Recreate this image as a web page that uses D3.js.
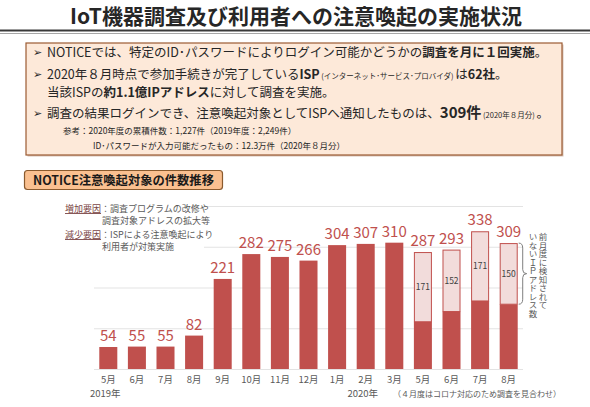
<!DOCTYPE html>
<html>
<head>
<meta charset="utf-8">
<script src="https://cdn.jsdelivr.net/npm/d3@7"></script>
<style>
  body { margin: 0; background: #fff; }
  svg { display: block; font-family: "Noto Sans CJK JP", "Noto Sans", sans-serif; }
</style>
</head>
<body>
<svg id="chart" width="590" height="407"></svg>
<script>
// data
const monthLabels = ["5月", "6月", "7月", "8月", "9月", "10月", "11月", "12月", "1月", "2月", "3月", "5月", "6月", "7月", "8月"];
const totals = [54, 55, 55, 82, 221, 282, 275, 266, 304, 307, 310, 287, 293, 338, 309];
const newIPs = [0, 0, 0, 0, 0, 0, 0, 0, 0, 0, 0, 171, 152, 171, 150];
const yearLabels = [{ idx: 0, text: "2019年" }, { idx: 9, text: "2020年" }];
const gridTicks = [0, 100, 200, 300, 400];

const red = "#c0504d", lightRed = "#f2dcdb", textGray = "#595959";

const svg = d3.select("#chart");

// ---- title ----
svg.append("text")
  .attr("x", 296).attr("y", 24)
  .attr("text-anchor", "middle")
  .attr("font-size", 21).attr("font-weight", "bold").attr("fill", "#262626")
  .text("IoT機器調査及び利用者への注意喚起の実施状況");
svg.append("line").attr("x1", 0).attr("x2", 590).attr("y1", 30.5).attr("y2", 30.5)
  .attr("stroke", "#3a3a3a").attr("stroke-width", 2);
svg.append("line").attr("x1", 0).attr("x2", 590).attr("y1", 33.5).attr("y2", 33.5)
  .attr("stroke", "#a6a6a6").attr("stroke-width", 1);

// ---- info box ----
svg.append("rect").attr("x", 27.5).attr("y", 44.5).attr("width", 536).attr("height", 112)
  .attr("fill", "#b08a70").attr("opacity", 0.5);
svg.append("rect").attr("x", 26).attr("y", 43).attr("width", 536).attr("height", 112)
  .attr("fill", "#fde9d9").attr("stroke", "#9c5b32").attr("stroke-width", 1.2);

const boxLines = [
  { x: 47, y: 57, size: 12.5, parts: [
    ["NOTICEでは、特定のID･パスワードによりログイン可能かどうかの"], ["調査を月に１回実施", "b"], ["。"]] },
  { x: 47, y: 79, size: 12.5, parts: [
    ["2020年８月時点で参加手続きが完了している"], ["ISP", "b"], [" (インターネット･サービス･プロバイダ) ", "s"], ["は"], ["62社", "b"], ["。"]] },
  { x: 47, y: 97, size: 12.5, parts: [
    ["当該ISPの"], ["約1.1億IPアドレス", "b"], ["に対して調査を実施。"]] },
  { x: 47, y: 118, size: 12.5, parts: [
    ["調査の結果ログインでき、注意喚起対象としてISPへ通知したものは、"], ["309件", "B"], [" (2020年８月分) ", "s"], ["。"]] },
  { x: 63, y: 134, size: 8.5, parts: [["参考：2020年度の累積件数：1,227件（2019年度：2,249件）"]] },
  { x: 93, y: 149, size: 8.5, parts: [["ID･パスワードが入力可能だったもの：12.3万件（2020年８月分）"]] }
];
const arrows = [57, 79, 118];
arrows.forEach(y => {
  svg.append("text").attr("x", 33).attr("y", y - 1).attr("font-size", 11).attr("fill", "#262626").text("➢");
});
boxLines.forEach(line => {
  const t = svg.append("text").attr("x", line.x).attr("y", line.y)
    .attr("font-size", line.size).attr("fill", "#262626");
  line.parts.forEach(([txt, st]) => {
    const s = t.append("tspan").text(txt);
    if (st === "b") s.attr("font-weight", "bold");
    if (st === "B") s.attr("font-weight", "bold").attr("font-size", 15);
    if (st === "s") s.attr("font-size", 7.5);
  });
});

// ---- section header ----
svg.append("rect").attr("x", 24.5).attr("y", 170.5).attr("width", 198).attr("height", 19).attr("rx", 3)
  .attr("fill", "#fac090").attr("stroke", "#8a5a2e").attr("stroke-width", 1.2);
svg.append("text").attr("x", 123.5).attr("y", 184.5).attr("text-anchor", "middle")
  .attr("font-size", 12.3).attr("font-weight", "bold").attr("fill", "#1a1a1a")
  .text("NOTICE注意喚起対象の件数推移");

// ---- chart ----
const x = d3.scaleBand().domain(d3.range(totals.length)).range([94, 523]).paddingInner(0.37).paddingOuter(0.185);
const y = d3.scaleLinear().domain([0, 400]).range([369, 206]);

svg.append("g").selectAll("line").data(gridTicks).join("line")
  .attr("x1", 94).attr("x2", 523)
  .attr("y1", d => y(d) + 0.5).attr("y2", d => y(d) + 0.5)
  .attr("stroke", "#e3e3e3").attr("stroke-width", 1);

// annotation on white
svg.append("rect").attr("x", 60).attr("y", 200).attr("width", 144).attr("height", 56).attr("fill", "#fff");
const notes = [
  { x: 65, y: 212, key: "増加要因", rest: "：調査プログラムの改修や" },
  { x: 102, y: 224, rest: "調査対象アドレスの拡大等" },
  { x: 65, y: 238, key: "減少要因", rest: "：ISPによる注意喚起により" },
  { x: 102, y: 250, rest: "利用者が対策実施" }
];
notes.forEach(n => {
  const t = svg.append("text").attr("x", n.x).attr("y", n.y).attr("font-size", 9).attr("fill", textGray);
  if (n.key) t.append("tspan").attr("text-decoration", "underline").attr("fill", "#7a4545").text(n.key);
  t.append("tspan").text(n.rest);
});

const bars = svg.append("g");
// dark part
bars.selectAll("rect.base").data(totals).join("rect").attr("class", "base")
  .attr("x", (d, i) => x(i)).attr("width", x.bandwidth())
  .attr("y", (d, i) => y(d - newIPs[i]))
  .attr("height", (d, i) => y(0) - y(d - newIPs[i]))
  .attr("fill", red);
// light part (new IPs)
const stacked = totals.map((d, i) => ({ i, total: d, n: newIPs[i] })).filter(d => d.n > 0);
bars.selectAll("rect.new").data(stacked)
  .join("rect").attr("class", "new")
  .attr("x", d => x(d.i) + 0.5).attr("width", x.bandwidth() - 1)
  .attr("y", d => y(d.total) + 0.5)
  .attr("height", d => y(d.total - d.n) - y(d.total) - 0.5)
  .attr("fill", lightRed).attr("stroke", red).attr("stroke-width", 1);
bars.selectAll("text.inner").data(stacked)
  .join("text").attr("class", "inner")
  .attr("x", d => x(d.i) + x.bandwidth() / 2)
  .attr("y", d => (y(d.total) + y(d.total - d.n)) / 2 + 3)
  .attr("text-anchor", "middle").attr("font-size", 8.5).attr("fill", "#404040")
  .text(d => d.n);

// value labels
bars.selectAll("text.val").data(totals).join("text").attr("class", "val")
  .attr("x", (d, i) => x(i) + x.bandwidth() / 2)
  .attr("y", d => y(d) - 6)
  .attr("text-anchor", "middle").attr("font-size", 15).attr("fill", red)
  .text(d => d);

// x axis labels
const xAxis = svg.append("g").attr("transform", "translate(0,369)")
  .call(d3.axisBottom(x).tickSize(0).tickPadding(7).tickFormat(i => monthLabels[i]));
xAxis.select(".domain").remove();
xAxis.selectAll("text").attr("font-size", 9.5).attr("fill", textGray).attr("font-family", "Noto Sans CJK JP");

svg.append("g").selectAll("text").data(yearLabels).join("text")
  .attr("x", d => x(d.idx) + x.bandwidth() / 2 - 3)
  .attr("y", 397).attr("text-anchor", "middle")
  .attr("font-size", 9.5).attr("fill", textGray)
  .text(d => d.text);
svg.append("text").attr("x", 477).attr("y", 397).attr("text-anchor", "middle")
  .attr("font-size", 8).attr("fill", textGray)
  .text("（４月度はコロナ対応のため調査を見合わせ）");

// brace beside last bar
const last = totals.length - 1;
const bx = x(last) + x.bandwidth() + 1;
const yTop = y(totals[last]), yBot = y(totals[last] - newIPs[last]), yMid = (yTop + yBot) / 2;
svg.append("path")
  .attr("d", `M${bx},${yTop} Q${bx + 4},${yTop} ${bx + 4},${yTop + 5} L${bx + 4},${yMid - 4} Q${bx + 4},${yMid} ${bx + 8},${yMid} Q${bx + 4},${yMid} ${bx + 4},${yMid + 4} L${bx + 4},${yBot - 5} Q${bx + 4},${yBot} ${bx},${yBot}`)
  .attr("fill", "none").attr("stroke", "#7f7f7f").attr("stroke-width", 1);

const vert = [
  { x: 543, text: "前月度に検知されて" },
  { x: 533, text: "いないＩＰアドレス数" }
];
svg.append("g").selectAll("text").data(vert).join("text")
  .attr("x", d => d.x).attr("y", 233)
  .style("writing-mode", "vertical-rl")
  .attr("font-size", 8.5).attr("fill", textGray)
  .text(d => d.text);
</script>
</body>
</html>
